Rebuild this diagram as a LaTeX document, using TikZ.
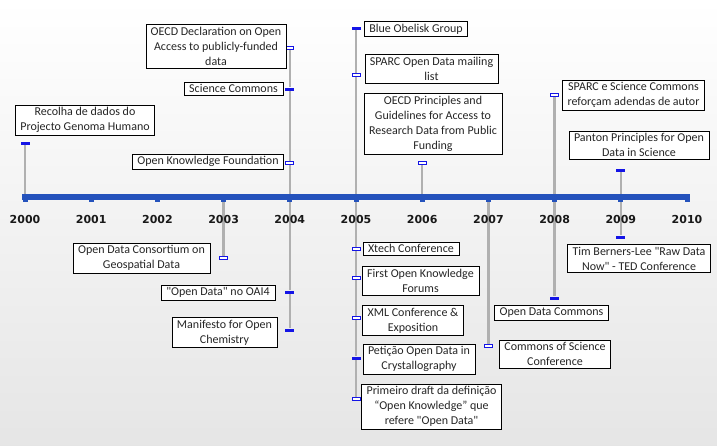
\documentclass[tikz,border=0pt]{standalone}
\usepackage{fontspec}
\setmainfont{Carlito}[Ligatures=TeXOff]
\newfontfamily\yearfont{DejaVu Sans}
\usetikzlibrary{positioning,calc}
\definecolor{axisblue}{HTML}{2452BC}
\definecolor{mkblue}{HTML}{1414E6}
\definecolor{dropgray}{HTML}{B0B0B0}
\pgfdeclarelayer{bg}
\pgfdeclarelayer{lines}
\pgfsetlayers{bg,lines,main}

\begin{document}
\begin{tikzpicture}[x=1pt,y=-1pt,
  font=\fontsize{12}{15}\selectfont,
  ev/.style={draw,fill=white,align=center,inner xsep=5pt,inner ysep=2.5pt,text=black!85},
  mk/.style={fill=mkblue,minimum width=9pt,minimum height=3pt,inner sep=0pt},
  mko/.style={draw=mkblue,line width=1pt,fill=white,minimum width=8pt,minimum height=3pt,inner sep=0pt},
  yr/.style={font=\yearfont\bfseries\fontsize{11}{13}\selectfont,text=black!90},
  tk/.style={fill=axisblue,minimum width=5pt,minimum height=5pt,inner sep=0pt},
  drop/.style={draw=dropgray,line width=2.5pt},
  axis/.style={draw=axisblue,line width=6pt}
]
\begin{pgfonlayer}{bg}
\shade[top color=white,bottom color=black!10] (0,0) rectangle (717,445);
\end{pgfonlayer}
\useasboundingbox (0,0) rectangle (717,445);

% year scale
\foreach \y [count=\i from 0] in {2000,...,2010}{
  \node[tk] (t\y) at (25+66.2*\i,199.5) {};
  \node[yr] (l\y) at (25+66.2*\i,219) {\y};
}
\draw[axis] ([xshift=-3pt]t2000.north) -- ([xshift=3pt]t2010.north);

% 2000
\node[mk] (mgenoma) at (t2000 |- 0,143) {};
\node[ev] (genoma) at (85,120) {Recolha de dados do\\Projecto Genoma Humano};

% 2003
\node[mko] (modc) at (t2003 |- 0,258) {};
\node[ev] (odc) at (141.5,258) {Open Data Consortium on\\Geospatial Data};

% 2004
\node[mko] (mdecl) at (t2004 |- 0,48) {};
\node[mk] (mscicom) at (t2004 |- 0,89) {};
\node[mko] (mokf) at (t2004 |- 0,163) {};
\node[mk] (moai) at (t2004 |- 0,292) {};
\node[mk] (mmanif) at (t2004 |- 0,330) {};
\node[ev] (decl) at (216,46) {OECD Declaration on Open\\Access to publicly-funded\\data};
\node[ev] (scicom) at (233.5,88.5) {Science Commons};
\node[ev] (okf) at (208,161.5) {Open Knowledge Foundation};
\node[ev] (oai) at (218,292.5) {"Open Data" no OAI4};
\node[ev] (manif) at (224.5,332.5) {Manifesto for Open\\Chemistry};

% 2005
\node[mk] (mobelisk) at (t2005 |- 0,28) {};
\node[mko] (msparcml) at (t2005 |- 0,75) {};
\node[mko] (mxtech) at (t2005 |- 0,249) {};
\node[mko] (mokforum) at (t2005 |- 0,278) {};
\node[mko] (mxmlconf) at (t2005 |- 0,318) {};
\node[mk] (mpeticao) at (t2005 |- 0,358) {};
\node[mko] (mdraft) at (t2005 |- 0,399) {};
\node[ev] (obelisk) at (416,29) {Blue Obelisk Group};
\node[ev] (sparcml) at (431.5,68.5) {SPARC Open Data mailing\\list};
\node[ev] (xtech) at (411,248.5) {Xtech Conference};
\node[ev] (okforum) at (420.5,280.5) {First Open Knowledge\\Forums};
\node[ev] (xmlconf) at (413,320.5) {XML Conference \&\\Exposition};
\node[ev] (peticao) at (419,359) {Petição Open Data in\\Crystallography};
\node[ev] (draft) at (431.5,406.5) {Primeiro draft da definição\\“Open Knowledge” que\\refere "Open Data"};

% 2006
\node[mko] (mprinc) at (t2006 |- 0,163) {};
\node[ev] (princ) at (433,123.5) {OECD Principles and\\Guidelines for Access to\\Research Data from Public\\Funding};

% 2007
\node[mko] (mcosci) at (t2007 |- 0,346) {};
\node[ev] (cosci) at (555,354) {Commons of Science\\Conference};

% 2008
\node[mko] (msparcsc) at (t2008 |- 0,95) {};
\node[mk] (modcom) at (t2008 |- 0,298) {};
\node[ev] (sparcsc) at (633.5,95) {SPARC e Science Commons\\reforçam adendas de autor};
\node[ev] (odcom) at (551.5,312.5) {Open Data Commons};

% 2009
\node[mk] (mpanton) at (t2009 |- 0,170) {};
\node[mk] (mtbl) at (t2009 |- 0,237) {};
\node[ev] (panton) at (639,145) {Panton Principles for Open\\Data in Science};
\node[ev] (tbl) at (639,258.5) {Tim Berners-Lee "Raw Data\\Now" - TED Conference};

% drop lines
\begin{pgfonlayer}{lines}
\draw[drop] (t2000) -- (mgenoma);
\draw[drop] (t2003) -- (modc);
\draw[drop] (t2004) -- (mokf) -- (mscicom) -- (mdecl);
\draw[drop] (t2004) -- (moai) -- (mmanif);
\draw[drop] (t2005) -- (msparcml) -- (mobelisk);
\draw[drop] (t2005) -- (mxtech) -- (mokforum) -- (mxmlconf) -- (mpeticao) -- (mdraft);
\draw[drop] (t2006) -- (mprinc);
\draw[drop] (t2007) -- (mcosci);
\draw[drop] (t2008) -- (msparcsc);
\draw[drop] (t2008) -- (modcom);
\draw[drop] (t2009) -- (mpanton);
\draw[drop] (t2009) -- (mtbl);
\end{pgfonlayer}
\end{tikzpicture}
\end{document}
